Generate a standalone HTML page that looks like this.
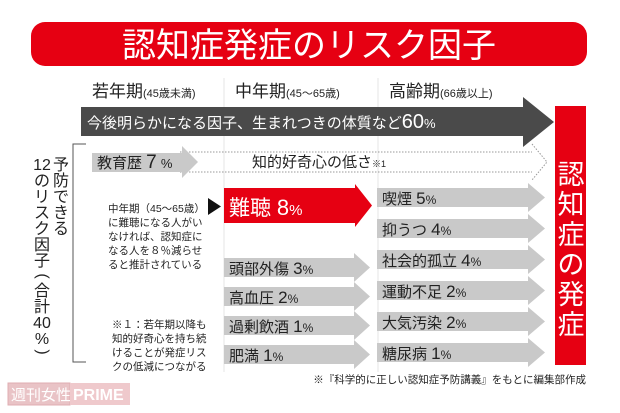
<!DOCTYPE html>
<html><head><meta charset="utf-8">
<style>
html,body{margin:0;padding:0;background:#fff;}
svg{display:block;font-family:"Liberation Sans","Noto Sans CJK JP",sans-serif;}
</style></head>
<body>
<svg width="620" height="413" viewBox="0 0 620 413">
  <rect x="0" y="0" width="620" height="413" fill="#fff"/>
  <!-- title -->
  <rect x="31" y="22" width="556" height="44" rx="14" fill="#e60012"/>
  <text x="309" y="57" text-anchor="middle" font-size="34" fill="#fff">認知症発症のリスク因子</text>

  <!-- dividers -->
  <line x1="224" y1="78" x2="224" y2="372" stroke="#e4e4e4" stroke-width="1"/>
  <line x1="378" y1="78" x2="378" y2="372" stroke="#e4e4e4" stroke-width="1"/>

  <!-- headers -->
  <text x="92" y="97" font-size="17" fill="#222">若年期<tspan font-size="11">(45歳未満)</tspan></text>
  <text x="235" y="97" font-size="17" fill="#222">中年期<tspan font-size="11">(45～65歳)</tspan></text>
  <text x="389" y="97" font-size="17" fill="#222">高齢期<tspan font-size="11">(66歳以上)</tspan></text>

  <!-- dark arrow -->
  <polygon points="81,107 523,107 523,97 554,122 523,147 523,136 81,136" fill="#4a4a4a"/>
  <text x="87" y="128" font-size="15" fill="#fff">今後明らかになる因子、生まれつきの体質など<tspan font-size="20">60</tspan><tspan font-size="13">%</tspan></text>

  <!-- red vertical bar -->
  <rect x="555" y="106" width="31" height="259" fill="#e60012"/>
  <text font-size="27" fill="#fff" text-anchor="middle">
    <tspan x="571" y="184">認</tspan><tspan x="571" y="214">知</tspan><tspan x="571" y="244">症</tspan><tspan x="571" y="274">の</tspan><tspan x="571" y="304">発</tspan><tspan x="571" y="334">症</tspan>
  </text>

  <!-- dotted arrow curiosity -->
  <g stroke="#999" stroke-width="1" stroke-dasharray="1.5,1.5" fill="none">
    <line x1="180" y1="152" x2="532" y2="152"/>
    <line x1="180" y1="172" x2="532" y2="172"/>
    <polyline points="532,144 547,162 532,180"/>
  </g>
  <text x="252" y="167" font-size="15" fill="#222">知的好奇心の低さ<tspan font-size="9">※1</tspan></text>

  <!-- education arrow -->
  <polygon points="92,153 182,153 182,146 198,162 182,178 182,172 92,172" fill="#c9c9c9"/>
  <text x="97" y="168" font-size="15" fill="#222">教育歴 <tspan font-size="19">7</tspan> <tspan font-size="13">%</tspan></text>

  <!-- bracket -->
  <polyline points="86,144 73,144 73,362 86,362" fill="none" stroke="#555" stroke-width="1"/>
  <text font-size="16" fill="#222" text-anchor="middle">
    <tspan x="61" y="170">予</tspan><tspan x="61" y="186">防</tspan><tspan x="61" y="202">で</tspan><tspan x="61" y="218">き</tspan><tspan x="61" y="234">る</tspan>
  </text>
  <text font-size="16" fill="#222" text-anchor="middle">
    <tspan x="42" y="170">12</tspan><tspan x="42" y="186">の</tspan><tspan x="42" y="202">リ</tspan><tspan x="42" y="218">ス</tspan><tspan x="42" y="234">ク</tspan><tspan x="42" y="250">因</tspan><tspan x="42" y="266">子</tspan><tspan x="42" y="296">合</tspan><tspan x="42" y="312">計</tspan><tspan x="42" y="328">40</tspan><tspan x="42" y="344">%</tspan>
  </text>
  <text x="42" y="276" font-size="16" fill="#222" text-anchor="middle" dominant-baseline="middle" transform="rotate(90 42 276)">(</text>
  <text x="42" y="352" font-size="16" fill="#222" text-anchor="middle" dominant-baseline="middle" transform="rotate(90 42 352)">)</text>

  <!-- annotation -->
  <text font-size="10.5" fill="#222">
    <tspan x="108" y="212">中年期（45～65歳）</tspan><tspan x="108" y="226">に難聴になる人がい</tspan><tspan x="108" y="240">なければ、認知症に</tspan><tspan x="108" y="254">なる人を８％減らせ</tspan><tspan x="108" y="268">ると推計されている</tspan>
  </text>
  <polygon points="208,198 221,206.5 208,215" fill="#111"/>
  <text font-size="10.5" fill="#222">
    <tspan x="112" y="328">※１：若年期以降も</tspan><tspan x="112" y="342">知的好奇心を持ち続</tspan><tspan x="112" y="356">けることが発症リス</tspan><tspan x="112" y="370">クの低減につながる</tspan>
  </text>

  <!-- red hearing arrow -->
  <polygon points="224,188 355,188 355,184 372,205.5 355,227 355,223 224,223" fill="#e60012"/>
  <text x="229" y="215" font-size="21" fill="#fff">難聴 <tspan font-size="22">8</tspan><tspan font-size="15">%</tspan></text>

  <g id="arrows"></g>

  <!-- source -->
  <text x="586" y="383" text-anchor="end" font-size="10.5" fill="#222">※『科学的に正しい認知症予防講義』をもとに編集部作成</text>

  <!-- watermark -->
  <g>
    <rect x="8" y="383" width="62" height="22" fill="#e9c3c6" stroke="#e0aeb2" stroke-width="1"/>
    <text x="11" y="400" font-size="15" fill="#fff">週刊女性</text>
    <rect x="70" y="383" width="60" height="22" fill="#efc9cc"/>
    <text x="73" y="400" font-size="16" fill="#fff" font-weight="bold">PRIME</text>
  </g>
</svg>
<script>
const midLabels = ['頭部外傷', '高血圧', '過剰飲酒', '肥満'];
const midValues = [3, 2, 1, 1];
const oldLabels = ['喫煙', '抑うつ', '社会的孤立', '運動不足', '大気汚染', '糖尿病'];
const oldValues = [5, 4, 4, 2, 2, 1];

const NS = 'http://www.w3.org/2000/svg';
const g = document.getElementById('arrows');
function arrow(x0, x1, tip, y, h, name) {
  const p = document.createElementNS(NS, 'polygon');
  p.setAttribute('points', [x0+','+y, x1+','+y, x1+','+(y-5), tip+','+(y+h/2), x1+','+(y+h+5), x1+','+(y+h), x0+','+(y+h)].join(' '));
  p.setAttribute('fill', '#c9c9c9');
  
  
  g.appendChild(p);
}
function label(x, y, txt, v, name) {
  const t = document.createElementNS(NS, 'text');
  t.setAttribute('x', x); t.setAttribute('y', y);
  t.setAttribute('font-size', '15'); t.setAttribute('fill', '#222');
  
  
  t.innerHTML = txt + ' <tspan font-size="17">' + v + '</tspan><tspan font-size="12">%</tspan>';
  g.appendChild(t);
}
midLabels.forEach((l, i) => {
  const y = 258 + i * 29;
  arrow(224, 354, 370, y, 19, 'mid-risk-arrow');
  label(229, y + 16, l, midValues[i], 'mid-risk-label');
});
oldLabels.forEach((l, i) => {
  const y = 188 + i * 31;
  arrow(377, 528, 545, y, 19, 'old-risk-arrow');
  label(382, y + 16, l, oldValues[i], 'old-risk-label');
});
</script>
</body></html>
